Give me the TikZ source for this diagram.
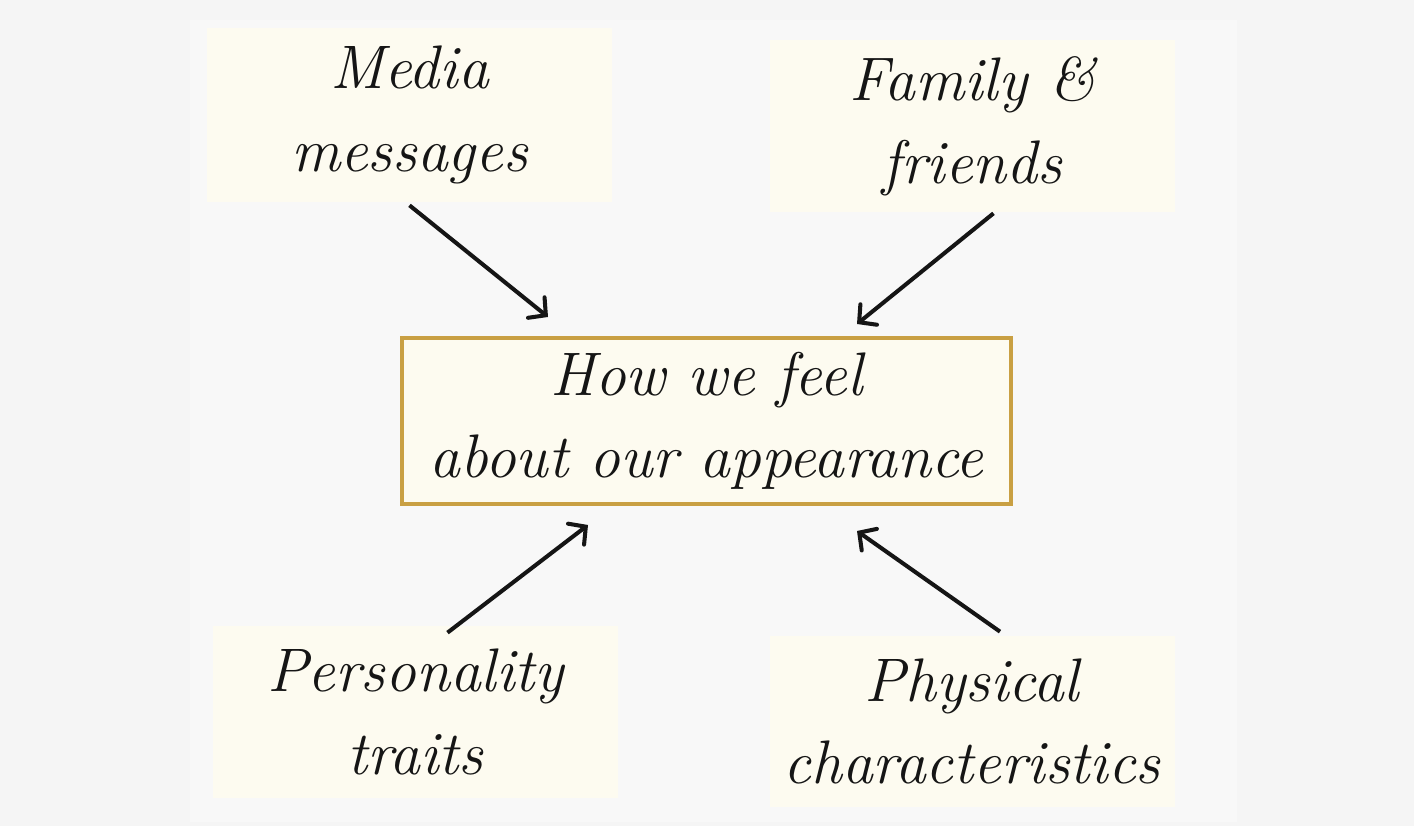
\documentclass[tikz,border=0pt]{standalone}
\usepackage{tikz}
\usetikzlibrary{arrows.meta}
\definecolor{pagebg}{HTML}{F5F5F5}
\definecolor{panelbg}{HTML}{F8F8F8}
\definecolor{cream}{HTML}{FDFBF0}
\definecolor{gold}{HTML}{C9A043}
\definecolor{ink}{HTML}{151515}

\tikzset{
  factor/.style={fill=cream,minimum width=8.1cm,minimum height=3.44cm,
    align=center,text=ink,font=\fontsize{35}{47}\selectfont\itshape,inner sep=0pt},
  centre/.style={factor,draw=gold,line width=2.3pt,minimum width=12.18cm,minimum height=3.32cm},
  arr/.style={draw=ink,line width=2.3pt,-{Straight Barb[length=7pt,width=15pt,line cap=round]}}
}

\begin{document}
\begin{tikzpicture}
  \fill[pagebg] (0,0) rectangle (28.28,-16.52);
  \fill[panelbg] (3.8,-0.4) rectangle (24.74,-16.44);
  \useasboundingbox (0,0) rectangle (28.28,-16.52);

  \node[factor,minimum height=3.48cm] (media) at (8.19,-2.30) {Media\\messages};
  \node[factor] (family) at (19.45,-2.52) {Family \&\\friends};
  \node[centre] (feel) at (14.13,-8.42) {How we feel\\about our appearance};
  \node[factor] (person) at (8.31,-14.24) {Personality\\traits};
  \node[factor,minimum height=3.42cm] (physical) at (19.44,-14.43) {Physical\\characteristics};

  % arrow tips just off the central box
  \coordinate (mediatip) at (10.96,-6.34);
  \coordinate (familytip) at (17.14,-6.48);
  \coordinate (persontip) at (11.76,-10.50);
  \coordinate (physicaltip) at (17.14,-10.62);

  \draw[arr] ([yshift=-0.06cm]media.south) -- (mediatip);
  \draw[arr] ([xshift=0.42cm,yshift=-0.02cm]family.south) -- (familytip);
  \draw[arr] ([xshift=0.64cm,yshift=-0.14cm]person.north) -- (persontip);
  \draw[arr] ([xshift=0.56cm,yshift=0.08cm]physical.north) -- (physicaltip);
\end{tikzpicture}
\end{document}
